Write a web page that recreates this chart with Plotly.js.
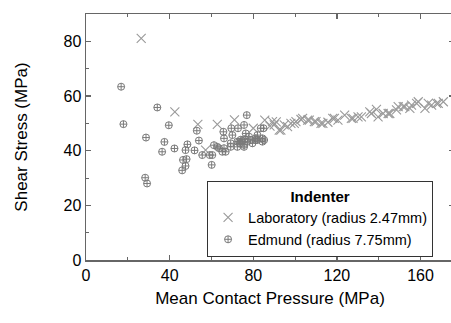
<!DOCTYPE html>
<html>
<head>
<meta charset="utf-8">
<script src="https://cdn.plot.ly/plotly-3.0.1.min.js"></script>
<style>
html,body{margin:0;padding:0;overflow:hidden;background:#fff;}
#chart{width:456px;height:323px;}
</style>
</head>
<body>
<div id="chart"></div>
<script>
// Laboratory indenter (radius 2.47mm)
const labX = [26.4, 42.5, 53.5, 57.2, 62.8, 71.0, 80.0, 85.5, 88.0, 89.2, 90.0, 91.0, 92.4, 93.2, 94.8, 96.4, 98.0, 99.6, 100.4, 102.8, 103.6, 106.0, 106.8, 109.2, 110.0, 112.4, 113.3, 115.7, 118.0, 118.8, 120.5, 123.7, 126.9, 127.7, 130.1, 131.7, 135.7, 136.5, 138.9, 139.7, 142.1, 144.5, 145.3, 148.5, 149.3, 151.7, 152.5, 154.9, 155.7, 158.1, 158.9, 162.1, 163.7, 165.3, 167.7, 168.5, 170.9];
const labY = [81.1, 54.2, 49.6, 40.2, 49.6, 51.3, 48.2, 51.2, 49.0, 50.6, 49.4, 50.5, 47.5, 47.5, 49.4, 48.8, 50.0, 50.0, 50.6, 51.4, 51.8, 51.2, 51.2, 50.6, 50.6, 50.0, 50.0, 50.4, 51.8, 51.8, 51.2, 53.0, 51.8, 51.8, 52.4, 52.4, 54.2, 53.6, 55.1, 52.4, 53.6, 53.6, 53.6, 54.9, 56.1, 56.1, 56.1, 55.5, 56.7, 57.3, 57.9, 55.5, 57.3, 56.7, 57.3, 57.3, 57.9];

// Edmund indenter (radius 7.75mm)
const edX = [16.8, 17.9, 28.7, 28.3, 29.2, 34.1, 36.4, 37.5, 39.6, 42.3, 46.0, 46.4, 47.6, 48.1, 47.6, 48.5, 51.9, 53.0, 54.0, 55.6, 59.2, 60.1, 60.4, 61.2, 62.8, 63.6, 65.2, 66.0, 66.8, 65.7, 66.0, 69.2, 69.2, 69.5, 70.0, 72.4, 72.4, 72.7, 73.2, 73.6, 74.0, 74.8, 75.6, 75.6, 75.6, 76.0, 76.4, 76.9, 77.2, 78.0, 78.8, 79.6, 81.2, 81.2, 82.0, 82.0, 83.6, 84.4, 84.4, 84.9, 85.2];
const edY = [63.4, 49.7, 44.8, 30.1, 28.0, 55.8, 39.6, 43.2, 49.3, 40.8, 32.8, 36.6, 34.4, 36.9, 40.2, 42.3, 40.1, 47.3, 43.7, 38.4, 38.4, 34.8, 38.4, 42.0, 41.4, 40.9, 39.6, 40.9, 39.6, 46.9, 44.5, 42.7, 41.4, 48.2, 45.7, 43.3, 41.4, 48.2, 43.3, 42.6, 44.0, 43.5, 42.1, 41.4, 49.4, 44.2, 46.3, 53.0, 43.3, 45.1, 43.9, 42.7, 44.5, 43.9, 45.7, 43.9, 48.2, 44.5, 43.3, 48.2, 43.9];

const seriesNames = ["Laboratory (radius 2.47mm)", "Edmund (radius 7.75mm)"];
const legendTitle = "Indenter";
const xTitle = "Mean Contact Pressure (MPa)";
const yTitle = "Shear Stress (MPa)";

const font = "Liberation Sans, Arial, sans-serif";

const traces = [
  {
    x: labX, y: labY, type: "scatter", mode: "markers", name: seriesNames[0],
    marker: {symbol: "x-thin-open", size: 9, color: "#9a9a9a", line: {width: 1.1, color: "#9a9a9a"}}
  },
  {
    x: edX, y: edY, type: "scatter", mode: "markers", name: seriesNames[1],
    marker: {symbol: "circle-cross-open", size: 7, color: "#7a7a7a", line: {width: 1, color: "#7a7a7a"}}
  }
];

const axisCommon = {
  showgrid: false, zeroline: false, showline: true, linecolor: "#666", linewidth: 1.5,
  ticks: "inside", ticklen: 5, tickwidth: 1.2, tickcolor: "#666", mirror: "ticks",
  tickfont: {family: font, size: 16, color: "#000"}
};

const layout = {
  width: 456, height: 323,
  margin: {l: 86, r: 2, t: 14, b: 63},
  paper_bgcolor: "#fff", plot_bgcolor: "#fff",
  showlegend: true,
  xaxis: Object.assign({}, axisCommon, {
    range: [0, 176], dtick: 40, tick0: 0,
    minor: {dtick: 20, ticks: "inside", ticklen: 3, tickcolor: "#666", tickwidth: 1},
    title: {text: xTitle, font: {family: font, size: 17, color: "#000"}, standoff: 9},
    automargin: false
  }),
  yaxis: Object.assign({}, axisCommon, {
    range: [0, 90], dtick: 20, tick0: 0,
    minor: {dtick: 10, ticks: "inside", ticklen: 3, tickcolor: "#666", tickwidth: 1},
    title: {text: yTitle, font: {family: font, size: 17, color: "#000"}, standoff: 31},
    automargin: false
  }),
  legend: {
    x: 0.329, y: 0.321, xanchor: "left", yanchor: "top",
    bgcolor: "#fff", bordercolor: "#333", borderwidth: 1,
    font: {family: font, size: 14.5, color: "#000"},
    title: {text: "<b>" + legendTitle + "</b>", side: "top center", font: {family: font, size: 15, color: "#000"}},
    tracegroupgap: 0
  }
};

Plotly.newPlot("chart", traces, layout, {displayModeBar: false, staticPlot: true});
</script>
</body>
</html>
